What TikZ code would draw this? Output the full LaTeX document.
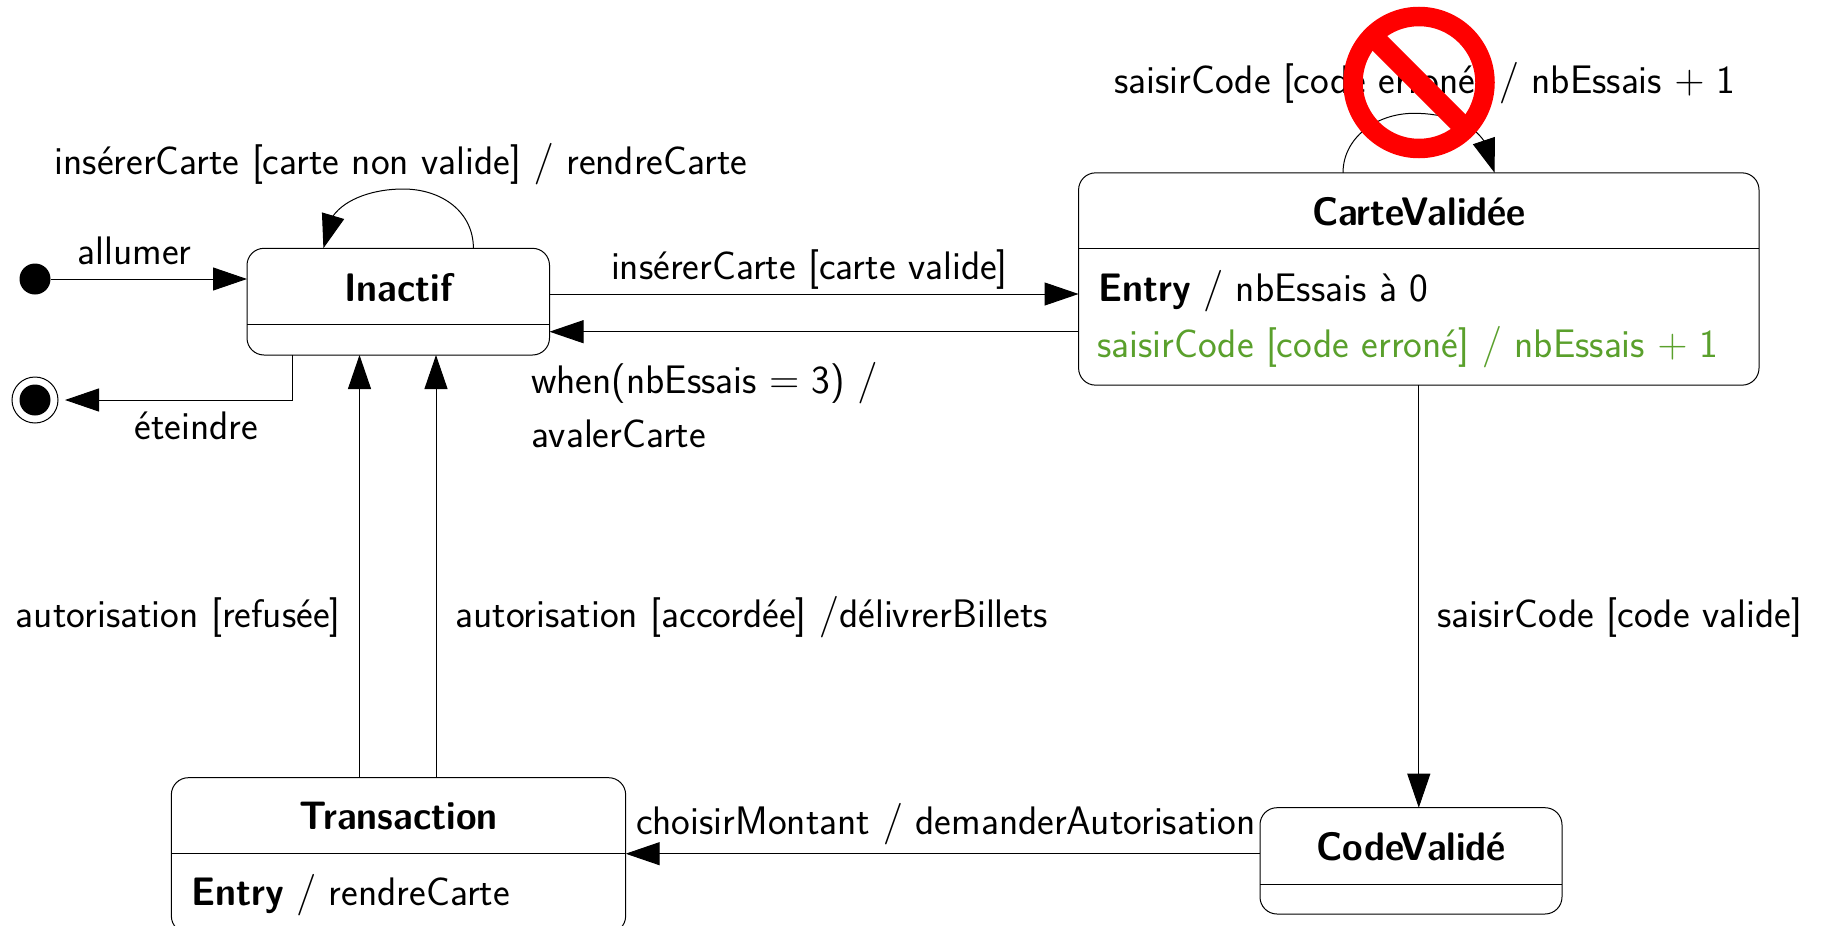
\documentclass[tikz,border=0pt]{standalone}
\usetikzlibrary{arrows.meta,calc}
\definecolor{okgreen}{HTML}{5AA02C}
\newcommand{\slsh}{$/$}
\newcommand{\bld}[1]{\scalebox{0.94}[1]{\bfseries #1}}
\tikzset{
  statebox/.style={draw,rounded corners=8.5pt,inner sep=0pt,outer sep=0pt,line width=0.5pt},
  divider/.style={line width=0.5pt},
  lbl/.style={anchor=base west,inner sep=0pt,outer sep=0pt,font=\fontsize{19.9}{24}\selectfont\sffamily},
  ttl/.style={anchor=base,inner sep=0pt,outer sep=0pt,font=\fontsize{19.9}{24}\selectfont\sffamily},
  conn/.style={line width=0.5pt,-{Triangle[length=17pt,width=11.5pt]}},
  dot/.style={circle,fill=black,inner sep=0pt,outer sep=0pt,minimum size=15.5pt},
  ringo/.style={circle,draw,fill=white,inner sep=0pt,outer sep=0pt,minimum size=23pt,line width=0.5pt},
  noring/.style={circle,draw=red,line width=9.75pt,inner sep=0pt,outer sep=0pt,minimum size=66pt}
}
\begin{document}
\begin{tikzpicture}[x=0.5pt,y=-0.5pt]
\useasboundingbox (0,0) rectangle (1822,926);
\clip (0,0) rectangle (1822,926);
% states
\node[statebox,minimum width=151.25pt,minimum height=53.35pt] (Inactif) at (398.25,301.65) {};
\node[statebox,minimum width=340.2pt,minimum height=106.15pt] (Carte) at (1418.8,279) {};
\node[statebox,minimum width=151pt,minimum height=53.15pt] (Code) at (1411,860.85) {};
\node[statebox,minimum width=227.15pt,minimum height=77.65pt] (Trans) at (398.5,855.35) {};
\draw[divider] (Inactif.west |- 0,324) -- (Inactif.east |- 0,324);
\draw[divider] (Carte.west |- 0,248.7) -- (Carte.east |- 0,248.7);
\draw[divider] (Code.west |- 0,884) -- (Code.east |- 0,884);
\draw[divider] (Trans.west |- 0,853.7) -- (Trans.east |- 0,853.7);
% titles
\node[ttl] (tInactif) at (398.5,301.5) {\bld{Inactif}};
\node[ttl] (tCarte) at (1419,225.5) {\bld{CarteValidée}};
\node[ttl] (tCode) at (1411,860) {\bld{CodeValidé}};
\node[ttl] (tTrans) at (398.5,829) {\bld{Transaction}};
% bodies
\node[lbl] (b1) at (1098,301.5) {\bld{Entry} \slsh{} nbEssais à 0};
\node[lbl,text=okgreen] (b2) at (1097,357) {saisirCode [code erroné] \slsh{} nbEssais $+$ 1};
\node[lbl] (b3) at (191,905.5) {\bld{Entry} \slsh{} rendreCarte};
% pseudo states
\node[dot] (init) at (35,279) {};
\node[ringo] (fin) at (35,400) {};
\node[dot] (finin) at (35,400) {};
% connectors
\draw[conn] (init.east) -- (Inactif.west |- init.east);
\draw[conn] ($(Inactif.south west)+(45,0)$) |- ($(fin.east)+(7,0)$);
\draw[conn] (Inactif.east |- 0,294) -- (Carte.west |- 0,294);
\draw[conn] (Carte.west |- 0,331.7) -- (Inactif.east |- 0,331.7);
\draw[conn] (Trans.north -| 359.5,0) -- (Inactif.south -| 359.5,0);
\draw[conn] (Trans.north -| 436,0) -- (Inactif.south -| 436,0);
\draw[conn] (Carte.south) -- (Code.north -| Carte.south);
\draw[conn] (Code.west |- 0,853.7) -- (Trans.east |- 0,853.7);
\draw[conn] (Inactif.north -| 473.4,0) .. controls (473.4,212) and (442,189) .. (403,189) .. controls (375,189) and (346,198) .. (333,216) -- (Inactif.north -| 323.4,0);
\draw[conn] (Carte.north -| 1343,0) .. controls (1343,138) and (1376,113.3) .. (1414,113.3) .. controls (1445,113.3) and (1472,123) .. (1484,141) -- (Carte.north -| 1494.6,0);
% labels
\node[lbl] (l1) at (54.6,174.2) {insérerCarte [carte non valide] \slsh{} rendreCarte};
\node[lbl] (l2) at (77.7,264.5) {allumer};
\node[lbl] (l3) at (134.7,439.2) {éteindre};
\node[lbl] (l4) at (611,279.5) {insérerCarte [carte valide]};
\node[lbl] (l5) at (531,393) {when(nbEssais $=$ 3) \slsh};
\node[lbl] (l6) at (531,447.5) {avalerCarte};
\node[lbl] (l7) at (16,627.5) {autorisation [refusée]};
\node[lbl] (l8) at (455.5,627.5) {autorisation [accordée] \slsh délivrerBillets};
\node[lbl] (l9) at (1437.5,627.5) {saisirCode [code valide]};
\node[lbl] (l10) at (636,834) {choisirMontant \slsh{} demanderAutorisation};
\node[lbl] (l11) at (1114,93.2) {saisirCode [code erroné] \slsh{} nbEssais $+$ 1};
% prohibition sign
\node[noring] (no) at (1419,82.5) {};
\draw[red,line width=10.4pt] (no.north west) -- (no.south east);
\end{tikzpicture}
\end{document}
